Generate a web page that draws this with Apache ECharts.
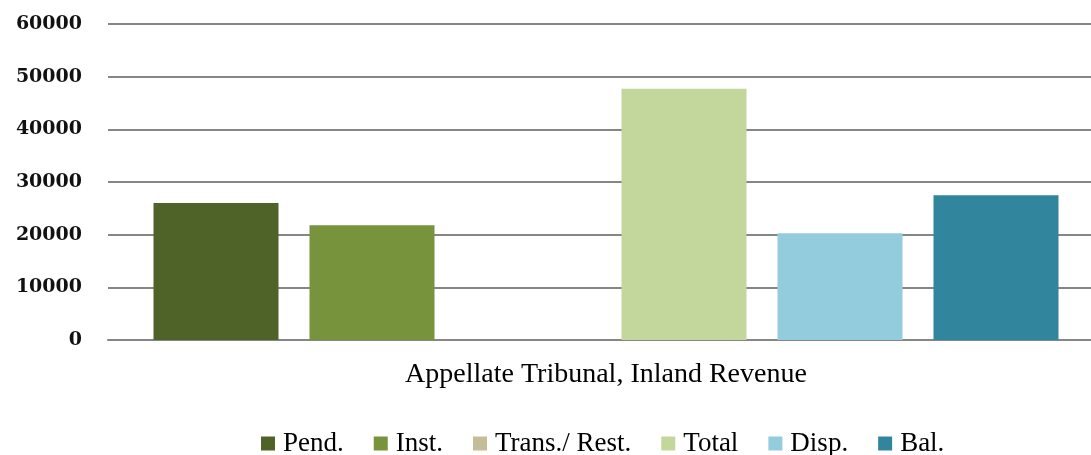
<!DOCTYPE html>
<html><head><meta charset="utf-8">
<script src="https://cdn.jsdelivr.net/npm/echarts@6/dist/echarts.min.js"></script>
<style>html,body{margin:0;padding:0;background:#fff;overflow:hidden}#c{width:1110px;height:455px}</style>
</head><body><div id="c"></div>
<script>
const categories = ["Appellate Tribunal, Inland Revenue"];
const seriesNames = ["Pend.", "Inst.", "Trans./ Rest.", "Total", "Disp.", "Bal."];
const pend = [26000];
const inst = [21800];
const transRest = [0];
const total = [47700];
const disp = [20250];
const bal = [27500];
const yTicks = [0, 10000, 20000, 30000, 40000, 50000, 60000];

const values = [pend, inst, transRest, total, disp, bal];
const colors = ["#4F6228", "#77933C", "#C4BD97", "#C3D69B", "#93CDDD", "#31859C"];
const font = "'Liberation Serif', 'DejaVu Serif', serif";

const chart = echarts.init(document.getElementById('c'));
chart.setOption({
  animation: false,
  color: colors,
  grid: { left: 108, top: 24, width: 996, height: 316, containLabel: false },
  xAxis: {
    type: 'category', data: categories,
    axisLine: { show: true, lineStyle: { color: '#868686', width: 2 } },
    axisTick: { show: false },
    axisLabel: { fontFamily: font, fontSize: 28, color: '#000', margin: 21 }
  },
  yAxis: {
    type: 'value', min: yTicks[0], max: yTicks[yTicks.length - 1], interval: 10000,
    axisLine: { show: false }, axisTick: { show: false },
    splitLine: { lineStyle: { color: '#868686', width: 2 } },
    axisLabel: {
      fontFamily: "'DejaVu Serif', serif", fontSize: 19, fontWeight: 'bold', color: '#111', margin: 26,
      formatter: v => String(v)
    }
  },
  legend: {
    top: 430, left: 261, padding: 0, itemWidth: 14, itemHeight: 14, itemGap: 30,
    icon: 'rect',
    textStyle: { fontFamily: font, fontSize: 27, color: '#000', padding: [0, 0, 0, 3] },
    data: seriesNames
  },
  series: seriesNames.map((n, i) => ({
    name: n, type: 'bar', data: values[i],
    barWidth: 125, barGap: '24.8%'
  }))
});
</script></body></html>
